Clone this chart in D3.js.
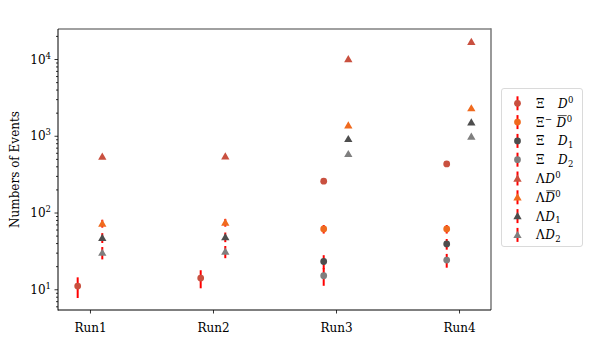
<!DOCTYPE html>
<html>
<head>
<meta charset="utf-8">
<script src="https://cdn.jsdelivr.net/npm/d3@7"></script>
<style>
  body { margin: 0; background: #fff; }
  text { font-family: "DejaVu Serif", serif; fill: #000; }
</style>
</head>
<body>
<div id="chart"></div>
<script>
// categories
var runs = ['Run1', 'Run2', 'Run3', 'Run4'];
var yTickValues = [10, 100, 1000, 10000];

// event counts per channel (null = not measured)
var xiD0 = [11, 14, 256, 430];
var xiD0bar = [null, null, 61, 61];
var xiD1 = [null, null, 23, 39];
var xiD2 = [null, null, 15, 24];
var lamD0 = [535, 540, 10000, 16800];
var lamD0bar = [72, 74, 1370, 2290];
var lamD1 = [47, 48, 910, 1500];
var lamD2 = [30, 31, 580, 975];

// symmetric errors
var xiD0Err = [3.3, 3.7, 16, 21];
var xiD0barErr = [null, null, 7.8, 7.8];
var xiD1Err = [null, null, 4.8, 6.2];
var xiD2Err = [null, null, 3.9, 4.9];
var lamD0Err = [23, 23, 100, 130];
var lamD0barErr = [8.5, 8.6, 37, 48];
var lamD1Err = [6.9, 6.9, 30, 39];
var lamD2Err = [5.5, 5.6, 24, 31];

var seriesColor = ['#c9503f', '#f06a1e', '#4d4d4d', '#7f7f7f'];

// legend labels: pieces of text, i = italic, s = sup, b = sub, o = overline
var legendLabels = [
    [{t: 'Ξ'}, {t: 'D', i: 1, gap: 13}, {t: '0', s: 1}],
    [{t: 'Ξ'}, {t: '−', s: 1}, {t: 'D', i: 1, o: 1, gap: 4}, {t: '0', s: 1}],
    [{t: 'Ξ'}, {t: 'D', i: 1, gap: 13}, {t: '1', b: 1}],
    [{t: 'Ξ'}, {t: 'D', i: 1, gap: 13}, {t: '2', b: 1}],
    [{t: 'Λ'}, {t: 'D', i: 1}, {t: '0', s: 1}],
    [{t: 'Λ'}, {t: 'D', i: 1, o: 1}, {t: '0', s: 1}],
    [{t: 'Λ'}, {t: 'D', i: 1}, {t: '1', b: 1}],
    [{t: 'Λ'}, {t: 'D', i: 1}, {t: '2', b: 1}]
];

var series = [
    {v: xiD0, e: xiD0Err, c: 0, tri: false},
    {v: xiD0bar, e: xiD0barErr, c: 1, tri: false},
    {v: xiD1, e: xiD1Err, c: 2, tri: false},
    {v: xiD2, e: xiD2Err, c: 3, tri: false},
    {v: lamD0, e: lamD0Err, c: 0, tri: true},
    {v: lamD0bar, e: lamD0barErr, c: 1, tri: true},
    {v: lamD1, e: lamD1Err, c: 2, tri: true},
    {v: lamD2, e: lamD2Err, c: 3, tri: true}
];

var width = 591, height = 359;
var pLeft = 58, pRight = 491, pTop = 29, pBottom = 310;

var svg = d3.select('#chart').append('svg')
    .attr('width', width)
    .attr('height', height);

var x = d3.scaleLinear().domain([-0.26, 3.26]).range([pLeft, pRight]);
var y = d3.scaleLog().domain([5.37, 24600]).range([pBottom, pTop]);

// minor ticks of the log axis
var minor = [];
for (var k = 0; k < 5; k++) {
    for (var m = 2; m < 10; m++) {
        var mv = m * Math.pow(10, k);
        if (mv > y.domain()[0] && mv < y.domain()[1]) minor.push(mv);
    }
}

var yAxis = svg.append('g').attr('transform', 'translate(' + pLeft + ',0)');
yAxis.call(d3.axisLeft(y).tickValues(minor).tickSize(2).tickFormat(''));
yAxis.append('g').call(d3.axisLeft(y).tickValues(yTickValues).tickSize(3.5).tickFormat(''));
yAxis.selectAll('.domain').remove();
yAxis.selectAll('line').attr('stroke', '#000').attr('stroke-width', 0.8);

yTickValues.forEach(function(v) {
    var t = svg.append('text')
        .attr('x', pLeft - 7)
        .attr('y', y(v) + 4.5)
        .attr('text-anchor', 'end')
        .style('font-size', '12px');
    t.append('tspan').text('10');
    t.append('tspan').attr('dy', -5).style('font-size', '8.5px').text(Math.round(Math.log10(v)));
});

var xAxis = svg.append('g').attr('transform', 'translate(0,' + pBottom + ')');
xAxis.call(d3.axisBottom(x).tickValues(d3.range(runs.length)).tickSize(3.5)
    .tickFormat(function(d) { return runs[d]; }));
xAxis.selectAll('.domain').remove();
xAxis.selectAll('line').attr('stroke', '#000').attr('stroke-width', 0.8);
xAxis.selectAll('text').style('font-size', '12px')
    .style('font-family', '"DejaVu Serif", serif').attr('dy', '1.25em');

// spines
svg.append('line').attr('x1', pLeft).attr('x2', pRight).attr('y1', pTop).attr('y2', pTop)
    .attr('stroke', '#808080').attr('stroke-width', 1.6);
svg.append('line').attr('x1', pRight).attr('x2', pRight).attr('y1', pTop - 0.8).attr('y2', pBottom)
    .attr('stroke', '#808080').attr('stroke-width', 1.6);
svg.append('line').attr('x1', pLeft).attr('x2', pLeft).attr('y1', pTop).attr('y2', pBottom + 0.5)
    .attr('stroke', '#000').attr('stroke-width', 1);
svg.append('line').attr('x1', pLeft).attr('x2', pRight).attr('y1', pBottom).attr('y2', pBottom)
    .attr('stroke', '#000').attr('stroke-width', 1);

svg.append('text')
    .attr('transform', 'translate(19,' + ((pTop + pBottom) / 2) + ') rotate(-90)')
    .attr('text-anchor', 'middle')
    .style('font-size', '12px')
    .text('Numbers of Events');

var circle = d3.symbol().type(d3.symbolCircle).size(36);
var triangle = d3.symbol().type(d3.symbolTriangle).size(30);

var plot = svg.append('g');
series.forEach(function(s) {
    var off = s.tri ? 0.1 : -0.1;
    var g = plot.append('g');
    s.v.forEach(function(v, i) {
        if (v == null) return;
        var cx = x(i + off);
        g.append('line')
            .attr('x1', cx).attr('x2', cx)
            .attr('y1', y(v - s.e[i])).attr('y2', y(v + s.e[i]))
            .attr('stroke', '#ff0000').attr('stroke-width', 2);
        g.append('path')
            .attr('d', s.tri ? triangle() : circle())
            .attr('transform', 'translate(' + cx + ',' + (y(v) + (s.tri ? 0.8 : 0)) + ')')
            .attr('fill', seriesColor[s.c]);
    });
});

// legend
var lg = svg.append('g');
lg.append('rect')
    .attr('x', 501.5).attr('y', 88.5).attr('width', 81).attr('height', 158)
    .attr('rx', 2.5).attr('fill', '#fff').attr('stroke', '#d0d0d0').attr('stroke-width', 0.8);

series.forEach(function(s, i) {
    var ly = 103.3 + i * 18.8;
    lg.append('line').attr('x1', 517.5).attr('x2', 517.5)
        .attr('y1', ly - 7).attr('y2', ly + 7)
        .attr('stroke', '#ff0000').attr('stroke-width', 2);
    lg.append('path')
        .attr('d', s.tri ? triangle() : circle())
        .attr('transform', 'translate(517.5,' + (ly + (s.tri ? 0.8 : 0)) + ')')
        .attr('fill', seriesColor[s.c]);

    var cx = 536;
    legendLabels[i].forEach(function(p) {
        cx += p.gap || 0;
        var fs = (p.s || p.b) ? 8.5 : 12;
        var ty = ly + 4.5 + (p.s ? -5 : 0) + (p.b ? 2.5 : 0);
        var t = lg.append('text')
            .attr('x', cx).attr('y', ty)
            .style('font-size', fs + 'px')
            .style('font-style', p.i ? 'italic' : 'normal')
            .text(p.t);
        var w = t.node().getComputedTextLength();
        if (p.o) {
            lg.append('line').attr('x1', cx + 1).attr('x2', cx + w + 0.5)
                .attr('y1', ly - 6.5).attr('y2', ly - 6.5)
                .attr('stroke', '#000').attr('stroke-width', 0.7);
        }
        cx += w + 0.5;
    });
});
</script>
</body>
</html>
